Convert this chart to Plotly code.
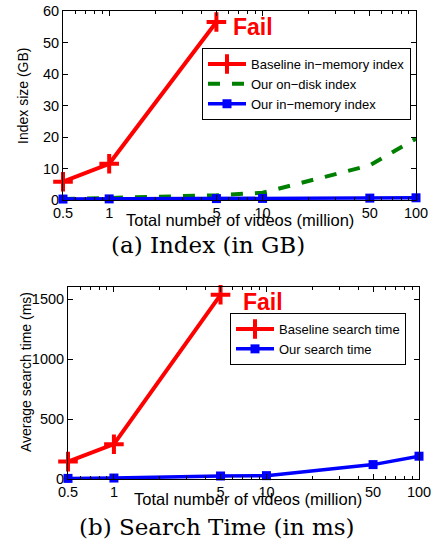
import plotly.graph_objects as go

videos = [0.5, 1, 5, 10, 50, 100]
tick_labels = ["0.5", "1", "5", "10", "50", "100"]
minor_ticks = [0.6, 0.7, 0.8, 0.9, 2, 3, 4, 6, 7, 8, 9, 20, 30, 40, 60, 70, 80, 90]

baseline_x = [0.5, 1, 5]
baseline_index = [5.8, 11.5, 56.5]
ondisk_index = [0.3, 0.6, 1.5, 2.3, 11.0, 19.5]
inmem_index = [0.3, 0.35, 0.45, 0.5, 0.6, 0.7]

baseline_time = [145, 290, 1535]
our_time = [5, 8, 25, 28, 120, 190]

W, H = 435, 540
def px(x): return x / W
def py(y): return 1 - y / H

fig = go.Figure()
cross = dict(symbol="cross-thin", size=14, color="red", line=dict(width=4, color="red"))
sq = dict(symbol="square", size=9, color="blue")

fig.add_trace(go.Scatter(x=baseline_x, y=baseline_index, mode="lines+markers", name="Baseline in\u2212memory index",
                         line=dict(color="red", width=4), marker=cross, xaxis="x", yaxis="y", legend="legend", cliponaxis=False))
fig.add_trace(go.Scatter(x=videos, y=ondisk_index, mode="lines", name="Our on\u2212disk index",
                         line=dict(color="green", width=4, dash="dash"), xaxis="x", yaxis="y", legend="legend"))
fig.add_trace(go.Scatter(x=videos, y=inmem_index, mode="lines+markers", name="Our in\u2212memory index",
                         line=dict(color="blue", width=3.5), marker=sq, xaxis="x", yaxis="y", legend="legend", cliponaxis=False))

fig.add_trace(go.Scatter(x=baseline_x, y=baseline_time, mode="lines+markers", name="Baseline search time",
                         line=dict(color="red", width=4), marker=cross, xaxis="x2", yaxis="y2", legend="legend2", cliponaxis=False))
fig.add_trace(go.Scatter(x=videos, y=our_time, mode="lines+markers", name="Our search time",
                         line=dict(color="blue", width=3.5), marker=sq, xaxis="x2", yaxis="y2", legend="legend2", cliponaxis=False))

sans = "Liberation Sans, Arial"
tickfont = dict(family=sans, size=14.5, color="black")
axcommon = dict(showline=True, linecolor="black", linewidth=1, mirror="ticks", ticks="inside", ticklen=5,
                tickcolor="black", showgrid=False, zeroline=False, tickfont=tickfont, automargin=False)
minor = dict(ticks="inside", ticklen=3, tickcolor="black", tickvals=minor_ticks, showgrid=False)

fig.update_layout(
    width=W, height=H, margin=dict(l=0, r=0, t=0, b=0, autoexpand=False),
    paper_bgcolor="white", plot_bgcolor="white", showlegend=True,
    xaxis=dict(type="log", range=[-0.30103, 2], tickvals=videos, ticktext=tick_labels, minor=minor,
               domain=[px(63), px(416)], anchor="y", **axcommon),
    yaxis=dict(range=[0, 60], dtick=10, domain=[py(200), py(11)], anchor="x", **axcommon),
    xaxis2=dict(type="log", range=[-0.30103, 2], tickvals=videos, ticktext=tick_labels, minor=minor,
                domain=[px(68), px(419)], anchor="y2", **axcommon),
    yaxis2=dict(range=[0, 1600], tickvals=[0, 500, 1000, 1500], domain=[py(479), py(287)], anchor="x2", **axcommon),
    legend=dict(x=px(411), y=py(48), xanchor="right", yanchor="top", bgcolor="white",
                bordercolor="black", borderwidth=1, font=dict(family=sans, size=13, color="black"),
                itemwidth=38, tracegroupgap=0),
    legend2=dict(x=px(406), y=py(313), xanchor="right", yanchor="top", bgcolor="white",
                 bordercolor="black", borderwidth=1, font=dict(family=sans, size=13, color="black"),
                 itemwidth=38, tracegroupgap=0),
)

ann = []
ann.append(dict(x=px(231), y=py(27), xref="paper", yref="paper", text="<b>Fail</b>", showarrow=False,
                xanchor="left", yanchor="middle", font=dict(family=sans, size=23, color="red")))
ann.append(dict(x=px(241), y=py(302), xref="paper", yref="paper", text="<b>Fail</b>", showarrow=False,
                xanchor="left", yanchor="middle", font=dict(family=sans, size=23, color="red")))
ann.append(dict(x=px(240), y=py(220), xref="paper", yref="paper", text="Total number of videos (million)",
                showarrow=False, xanchor="center", yanchor="middle", font=dict(family=sans, size=16.5, color="black")))
ann.append(dict(x=px(248), y=py(499), xref="paper", yref="paper", text="Total number of videos (million)",
                showarrow=False, xanchor="center", yanchor="middle", font=dict(family=sans, size=16.5, color="black")))
ann.append(dict(x=px(23), y=py(96), xref="paper", yref="paper", text="Index size (GB)", textangle=-90,
                showarrow=False, xanchor="center", yanchor="middle", font=dict(family=sans, size=14, color="black")))
ann.append(dict(x=px(26), y=py(372), xref="paper", yref="paper", text="Average search time (ms)", textangle=-90,
                showarrow=False, xanchor="center", yanchor="middle", font=dict(family=sans, size=14, color="black")))
ann.append(dict(x=px(208), y=py(245), xref="paper", yref="paper", text="(a) Index (in GB)",
                showarrow=False, xanchor="center", yanchor="middle", font=dict(family="DejaVu Serif, serif", size=23, color="black")))
ann.append(dict(x=px(217), y=py(527), xref="paper", yref="paper", text="(b) Search Time (in ms)",
                showarrow=False, xanchor="center", yanchor="middle", font=dict(family="DejaVu Serif, serif", size=23, color="black")))
fig.update_layout(annotations=ann)

fig.write_html("out.html", config={"displayModeBar": False},
               post_script="document.body.style.margin='0';document.body.style.overflow='hidden';")
